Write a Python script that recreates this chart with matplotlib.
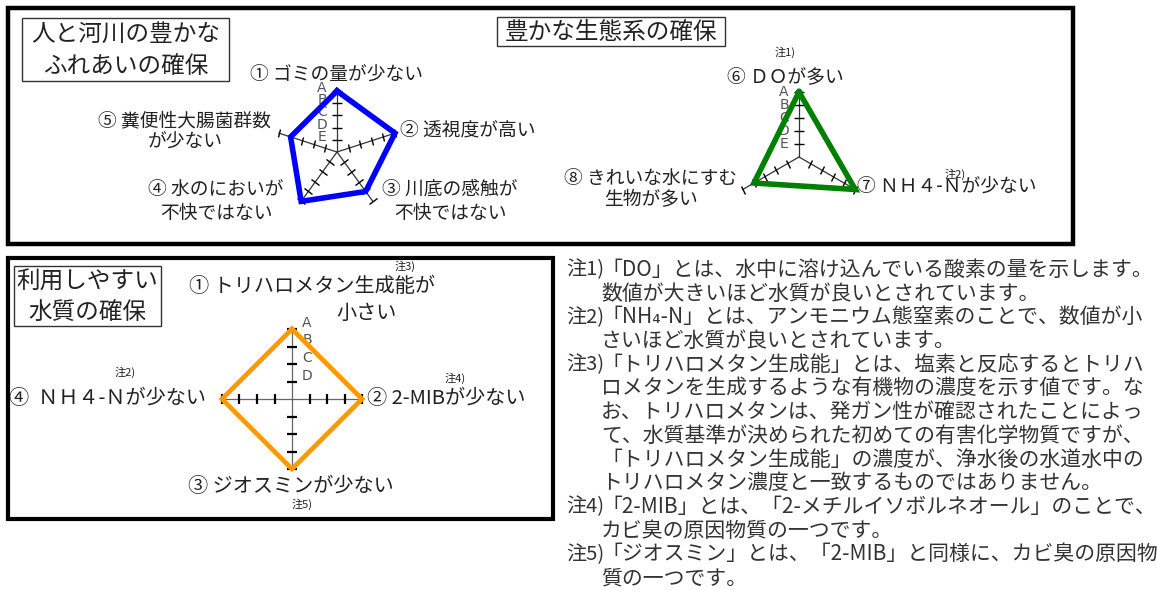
import numpy as np
import matplotlib
matplotlib.use('Agg')
import matplotlib.pyplot as plt
from matplotlib.markers import MarkerStyle
from matplotlib.transforms import Affine2D
from matplotlib.patches import Rectangle

plt.rcParams['font.family'] = ['Noto Sans CJK JP', 'DejaVu Sans']

W, H = 1157, 590

# grade letters, A = best
grades = ['A', 'B', 'C', 'D', 'E']

# 人と河川の豊かなふれあいの確保 (5 items, scale E..A = 1..5)
pent_title = ['人と河川の豊かな', 'ふれあいの確保']
pent_items = ['① ゴミの量が少ない', '② 透視度が高い', '③ 川底の感触が\n不快ではない',
              '④ 水のにおいが\n不快ではない', '⑤ 糞便性大腸菌群数\nが少ない']
pent_values = [5, 5, 4, 5, 4]

# 豊かな生態系の確保 (3 items, scale E..A = 1..5)
tri_title = ['豊かな生態系の確保']
tri_items = ['⑥ ＤＯが多い', '⑦ ＮＨ４-Ｎが少ない', '⑧ きれいな水にすむ\n生物が多い']
tri_values = [5, 5, 4]

# 利用しやすい水質の確保 (4 items, scale D..A = 1..4)
dia_title = ['利用しやすい', '水質の確保']
dia_items = ['① トリハロメタン生成能が\n小さい', '② 2-MIBが少ない',
             '③ ジオスミンが少ない', '④  ＮＨ４-Ｎが少ない']
dia_values = [4, 4, 4, 4]

notes = [
    ('注1)', ['「DO」とは、水中に溶け込んでいる酸素の量を示します。',
             '数値が大きいほど水質が良いとされています。']),
    ('注2)', ['「NH₄-N」とは、アンモニウム態窒素のことで、数値が小',
             'さいほど水質が良いとされています。']),
    ('注3)', ['「トリハロメタン生成能」とは、塩素と反応するとトリハ',
             'ロメタンを生成するような有機物の濃度を示す値です。な',
             'お、トリハロメタンは、発ガン性が確認されたことによっ',
             'て、水質基準が決められた初めての有害化学物質ですが、',
             '「トリハロメタン生成能」の濃度が、浄水後の水道水中の',
             'トリハロメタン濃度と一致するものではありません。']),
    ('注4)', ['「2-MIB」とは、「2-メチルイソボルネオール」のことで、',
             'カビ臭の原因物質の一つです。']),
    ('注5)', ['「ジオスミン」とは、「2-MIB」と同様に、カビ臭の原因物',
             '質の一つです。']),
]

TXT = '#222222'

fig = plt.figure(figsize=(W / 100, H / 100), dpi=100)
bg = fig.add_axes([0, 0, 1, 1])
bg.set_xlim(0, W)
bg.set_ylim(H, 0)
bg.axis('off')

# panel frames
bg.add_patch(Rectangle((8, 8), 1065, 236, fill=False, lw=3.2, ec='black'))
bg.add_patch(Rectangle((8, 258), 545, 261, fill=False, lw=3.0, ec='black'))


def title_box(x0, y0, x1, y1, lines, size=17):
    bg.add_patch(Rectangle((x0, y0), x1 - x0, y1 - y0, fill=False, lw=1.0, ec='#333333'))
    n = len(lines)
    step = (y1 - y0) / (n + 0.0)
    for k, t in enumerate(lines):
        bg.text((x0 + x1) / 2, y0 + step * (k + 0.5) + 1, t, ha='center', va='center',
                fontsize=size, color=TXT)


title_box(22, 18, 229, 81, pent_title)
title_box(497, 17, 725, 46, tri_title)
title_box(14, 266, 161, 326, dia_title)


def radar(cx, cy, rpx, rmax, values, color, lw, axis_color='#333333',
          tick_len=6.5, tick_lw=1.0):
    ax = fig.add_axes([(cx - rpx) / W, (H - cy - rpx) / H, 2 * rpx / W, 2 * rpx / H],
                      projection='polar')
    ax.set_theta_zero_location('N')
    ax.set_theta_direction(-1)
    ax.set_ylim(0, rmax)
    ax.axis('off')
    ax.patch.set_visible(False)
    n = len(values)
    theta = np.arange(n) * 2 * np.pi / n
    levels = np.arange(1, rmax + 1)
    for th in theta:
        ax.plot([th, th], [0, rmax], color=axis_color, lw=0.9, clip_on=False, zorder=2)
        alpha = 90 - np.degrees(th)
        m = MarkerStyle('|', transform=Affine2D().rotate_deg(alpha))
        ax.plot(np.full(len(levels), th), levels, ls='none', marker=m, ms=tick_len,
                mec='black', mew=tick_lw, clip_on=False, zorder=2)
    th_c = np.append(theta, theta[0])
    v_c = np.append(values, values[0])
    ax.plot(th_c, v_c, color=color, lw=lw, solid_joinstyle='miter', clip_on=False, zorder=3)
    return ax


def grade_marks(ax, top, dx, dy):
    for k, g in enumerate(grades[:top]):
        ax.annotate(g, xy=(0, top - k), xytext=(dx, dy), textcoords='offset pixels',
                    ha='center', va='center', fontsize=10, color='#555555',
                    family='DejaVu Sans', annotation_clip=False, zorder=1)


# pentagon
axp = radar(337, 152, 61, 5, pent_values, '#0000ff', 4.0)
grade_marks(axp, 5, -15, 3)

# triangle
axt = radar(799, 157, 65, 5, tri_values, '#008000', 4.0)
grade_marks(axt, 5, -15, 0)

# diamond
axd = radar(292, 399, 70, 4, dia_values, '#ff9900', 3.4, axis_color='#666666',
            tick_len=7.5, tick_lw=1.6)
grade_marks(axd, 4, 15, 6)

LS = 13.5


def label(text, pos, ha='center', gap=22, size=LS):
    # pos: one (x, y) for the first line, or a list of x for each line
    xs, y = pos
    for k, t in enumerate(text.split('\n')):
        x = xs[k] if isinstance(xs, (list, tuple)) else xs
        bg.text(x, y + k * gap, t, ha=ha, va='center', fontsize=size, color=TXT)


def small(text, x, y):
    bg.text(x, y, text, ha='center', va='center', fontsize=8, color=TXT)


# pentagon labels
label(pent_items[0], (336, 75))
label(pent_items[1], (400, 131), ha='left')
label(pent_items[2], (450, 189), gap=24)
label(pent_items[3], (216, 189), gap=24)
label(pent_items[4], (185, 121), gap=21)

# triangle labels
small('注1)', 785, 52)
label(tri_items[0], (785, 78))
label(tri_items[1], (857, 187), ha='left')
small('注2)', 955, 174)
label(tri_items[2], (651, 178), gap=22)

# diamond labels
DS = 14.5
small('注3)', 405, 266)
label(dia_items[0], ([312, 367], 287), gap=26, size=DS)
small('注4)', 455, 378)
label(dia_items[1], (367, 398), ha='left', size=DS)
label(dia_items[2], (291, 486), size=DS)
small('注5)', 302, 504)
small('注2)', 125, 372)
label(dia_items[3], (9, 398), ha='left', size=DS)

# notes
y = 270
for head, lines in notes:
    bg.text(566, y, head, ha='left', va='center', fontsize=14.5, color='#333333')
    for t in lines:
        bg.text(601, y, t, ha='left', va='center', fontsize=15, color='#333333')
        y += 23.7

fig.savefig('out.png', dpi=100)
